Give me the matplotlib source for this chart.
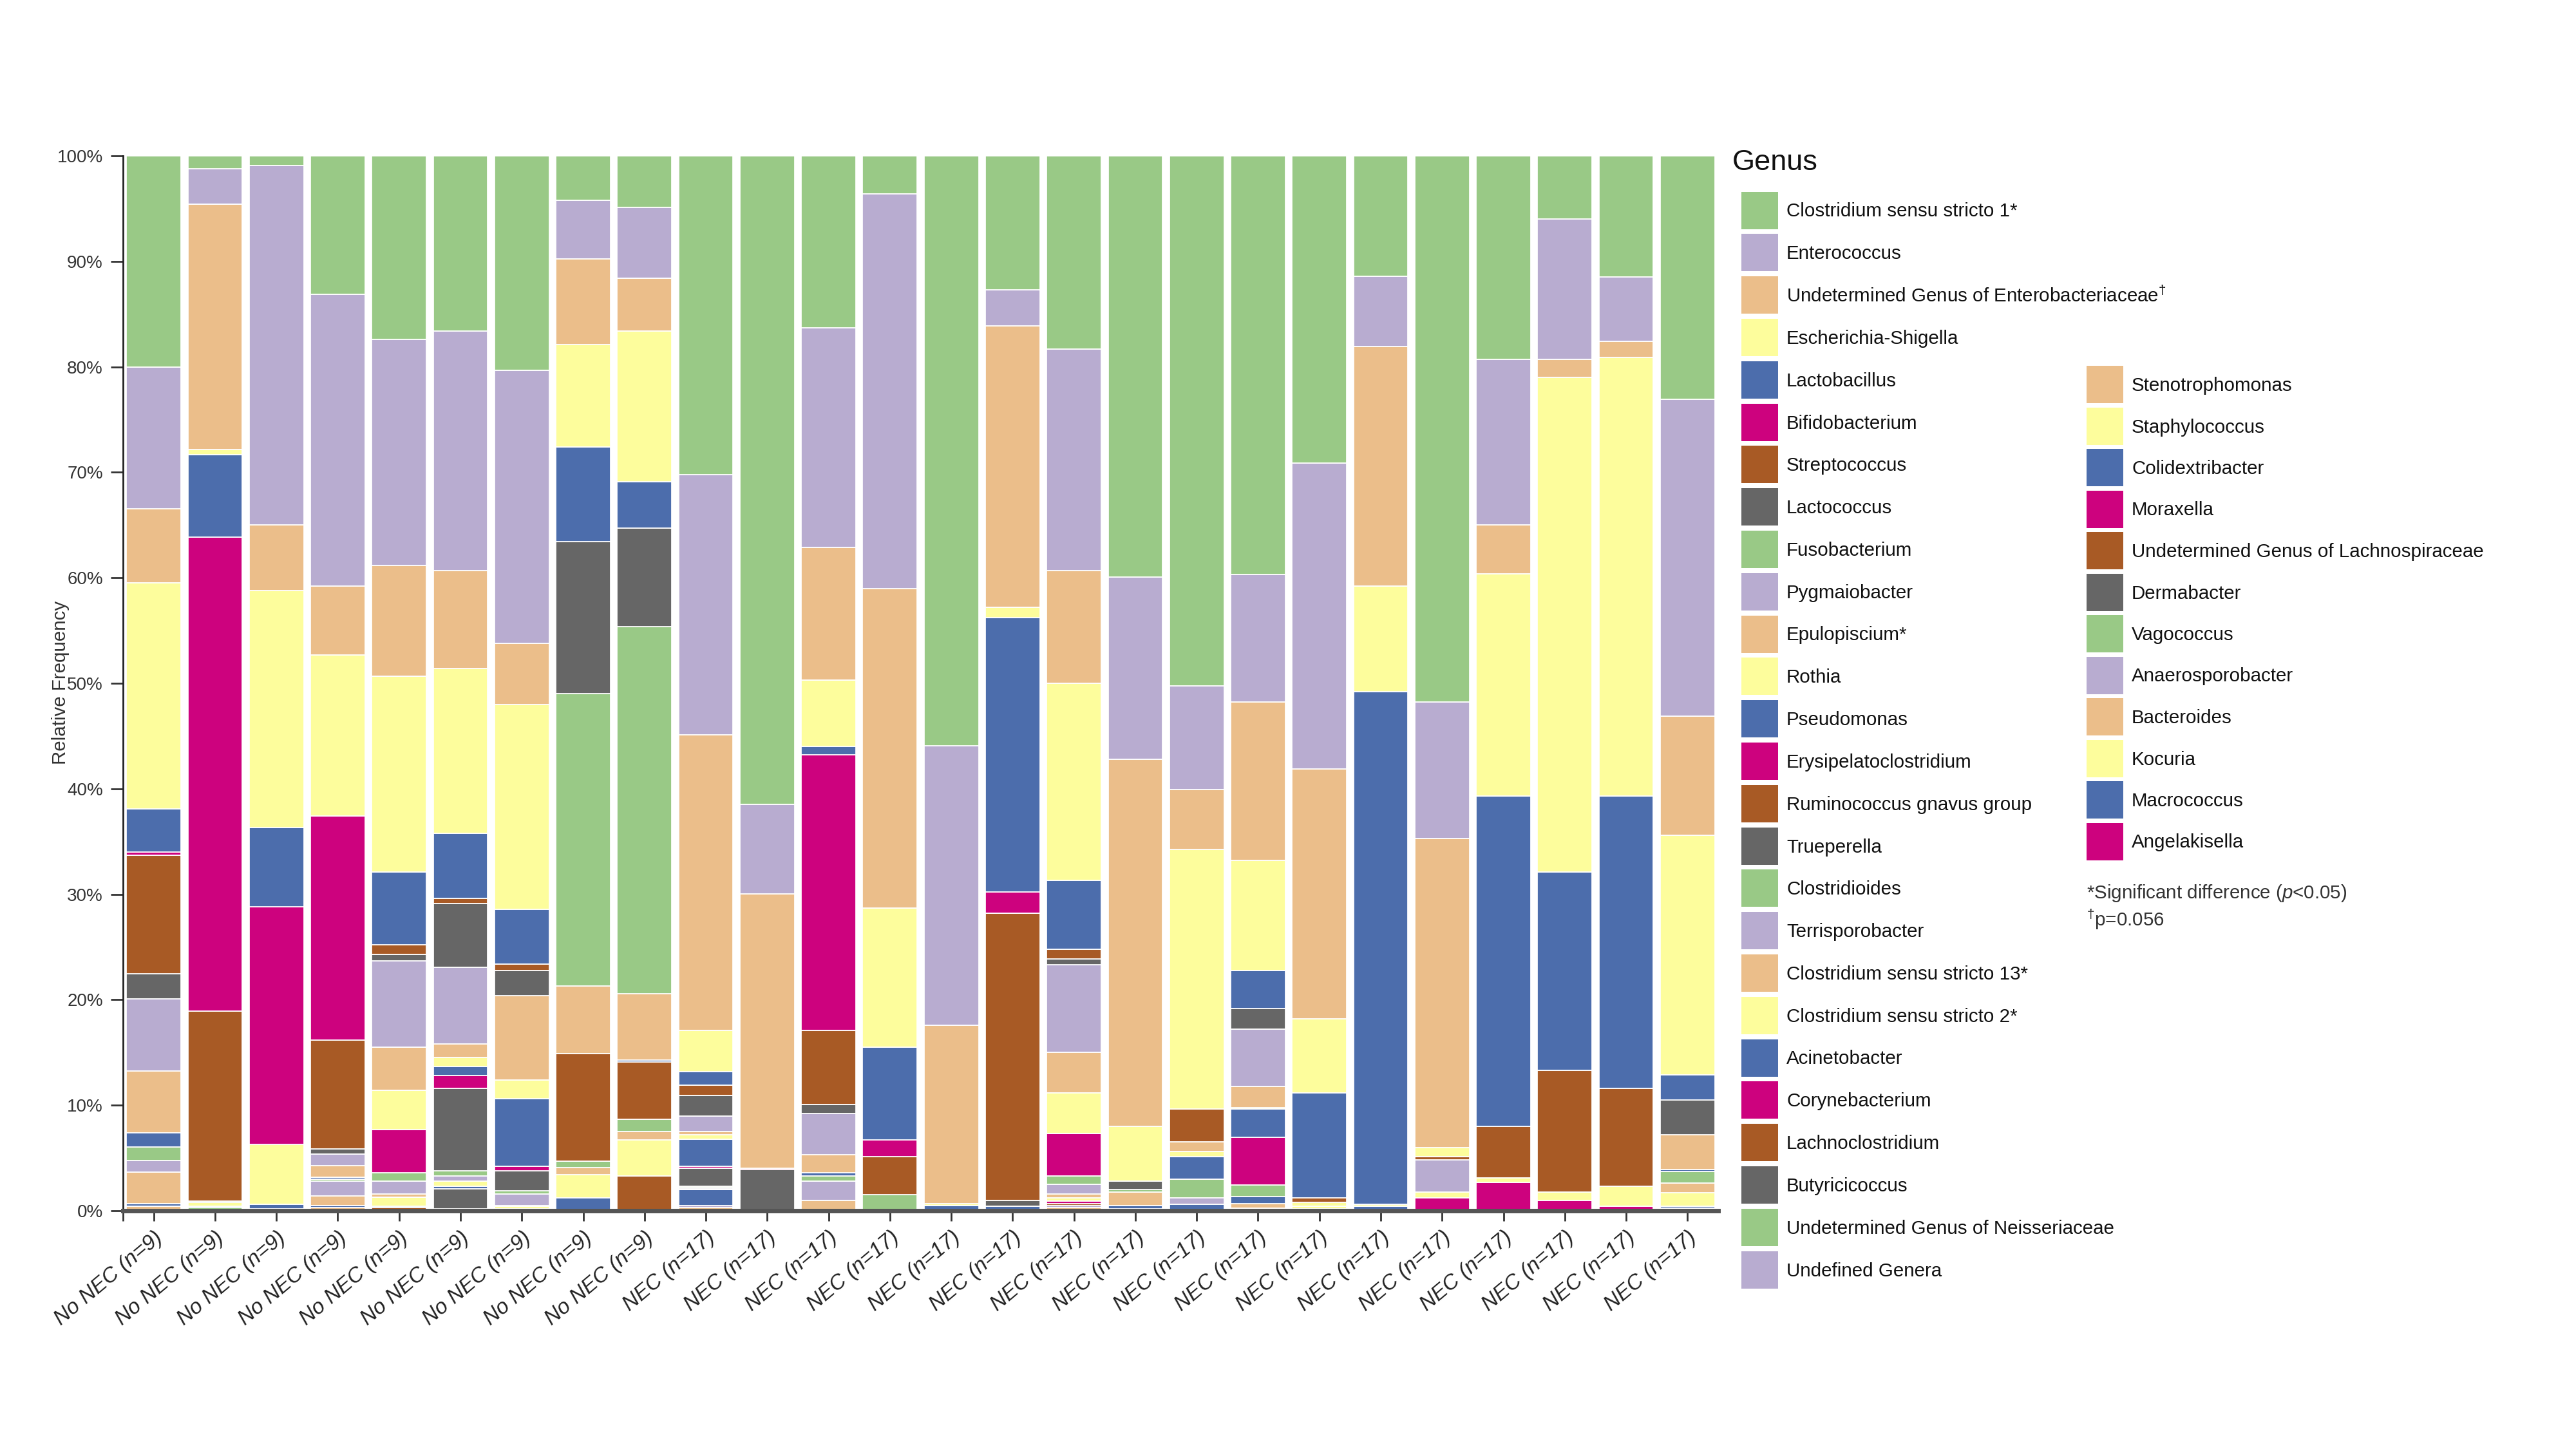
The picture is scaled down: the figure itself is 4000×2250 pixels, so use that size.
import matplotlib
matplotlib.use('Agg')
import matplotlib.pyplot as plt
from matplotlib.patches import Rectangle
import numpy as np

plt.rcParams['font.family'] = ['Liberation Sans', 'DejaVu Sans']
plt.rcParams['mathtext.fontset'] = 'custom'
plt.rcParams['mathtext.rm'] = 'Liberation Sans'
plt.rcParams['mathtext.it'] = 'Liberation Sans:italic'

# ---------------- data (relative frequency, %) ----------------
samples = ['No NEC (n=9)'] * 9 + ['NEC (n=17)'] * 17

genera = ['Clostridium sensu stricto 1*', 'Enterococcus',
          r'Undetermined Genus of Enterobacteriaceae$^{†}$', 'Escherichia-Shigella',
          'Lactobacillus', 'Bifidobacterium', 'Streptococcus', 'Lactococcus',
          'Fusobacterium', 'Pygmaiobacter', 'Epulopiscium*', 'Rothia',
          'Pseudomonas', 'Erysipelatoclostridium', 'Ruminococcus gnavus group',
          'Trueperella', 'Clostridioides', 'Terrisporobacter',
          'Clostridium sensu stricto 13*', 'Clostridium sensu stricto 2*',
          'Acinetobacter', 'Corynebacterium', 'Lachnoclostridium', 'Butyricicoccus',
          'Undetermined Genus of Neisseriaceae', 'Undefined Genera',
          'Stenotrophomonas', 'Staphylococcus', 'Colidextribacter', 'Moraxella',
          'Undetermined Genus of Lachnospiraceae', 'Dermabacter', 'Vagococcus',
          'Anaerosporobacter', 'Bacteroides', 'Kocuria', 'Macrococcus', 'Angelakisella']

clostridium_ss1 = [20.0, 1.2, 0.9, 13.1, 17.4, 16.6, 20.3, 4.2, 4.9, 30.2, 61.5, 16.3, 3.6,
                   55.9, 12.7, 18.3, 39.9, 50.2, 39.7, 29.1, 11.4, 51.8, 19.3, 6.0, 11.5, 23.1]
enterococcus = [13.4, 3.4, 34.1, 27.7, 21.4, 22.7, 25.9, 5.6, 6.7, 24.7, 8.5, 20.8, 37.4,
                26.5, 3.4, 21.0, 17.3, 9.8, 12.1, 29.0, 6.7, 12.9, 15.7, 13.3, 6.1, 30.0]
enterobacteriaceae = [7.0, 23.2, 6.2, 6.5, 10.5, 9.3, 5.8, 8.1, 5.0, 28.0, 26.0, 12.6, 30.3,
                      16.9, 26.7, 10.7, 34.8, 5.7, 15.0, 23.7, 22.7, 29.3, 4.6, 1.7, 1.5, 11.3]
escherichia = [21.4, 0.5, 22.5, 15.3, 18.6, 15.6, 19.4, 9.7, 14.3, 3.9, 0, 6.3, 13.2,
               0.2, 1.0, 18.7, 5.2, 24.55, 10.4, 7.0, 10.0, 0.9, 21.1, 46.9, 41.6, 22.7]
lactobacillus = [4.1, 7.8, 7.5, 0, 6.9, 6.2, 5.2, 9.0, 4.4, 1.3, 0, 0.8, 8.8,
                 0.5, 26.0, 6.5, 0, 0, 3.6, 10.0, 48.6, 0, 31.3, 18.8, 27.7, 2.4]
bifidobacterium = [0.3, 44.9, 22.5, 21.2, 0, 0, 0, 0, 0, 0, 0.15, 26.1, 1.6,
                   0, 2.0, 0, 0, 0, 0, 0, 0, 0, 0, 0, 0, 0]
streptococcus = [11.2, 18.0, 0, 10.35, 0.9, 0.5, 0.6, 0, 0, 1.0, 0, 7.0, 3.6,
                 0, 27.2, 0.9, 0, 3.15, 0, 0.4, 0, 0.3, 4.9, 11.5, 9.3, 0]
lactococcus = [2.4, 0.1, 0, 0.5, 0.6, 6.0, 2.4, 14.4, 9.4, 1.9, 3.9, 0.9, 0,
               0, 0.6, 0.6, 0.8, 0, 2.0, 0, 0, 0, 0, 0, 0, 3.3]
fusobacterium = [0, 0, 0, 0, 0, 0, 0, 27.8, 34.8, 0, 0, 0, 1.5,
                 0, 0, 0, 0.2, 0, 0, 0, 0, 0, 0, 0, 0, 0]
pygmaiobacter = [6.8, 0, 0, 1.1, 8.2, 7.3, 0, 0, 0, 1.5, 0, 3.9, 0,
                 0, 0, 8.3, 0, 0, 5.4, 0, 0, 3.0, 0, 0, 0, 0]
epulopiscium = [5.9, 0, 0, 1.1, 4.1, 1.3, 8.0, 6.4, 6.3, 0.3, 0, 1.7, 0,
                0, 0, 3.8, 1.3, 0.9, 2.05, 0, 0, 0, 0, 0, 0, 3.3]
rothia = [0, 0.4, 5.7, 0, 3.7, 0.8, 1.8, 0, 0, 0.4, 0, 0, 0,
          0, 0, 3.9, 0, 0.5, 0.1, 0.4, 0.2, 0.6, 0.4, 0.8, 1.85, 0]
pseudomonas = [1.3, 0.1, 0.4, 0.15, 0, 0.9, 6.4, 0, 0.2, 2.6, 0, 0.3, 0,
               0, 0.4, 0, 0.3, 2.1, 2.7, 0, 0.4, 0, 0, 0, 0, 0.2]
erysipelatoclostridium = [0, 0, 0, 0, 4.1, 1.2, 0.4, 0, 0, 0.2, 0, 0, 0,
                          0, 0, 4.0, 0, 0, 4.5, 0, 0, 1.2, 2.7, 0.9, 0.45, 0]
ruminococcus = [0, 0, 0, 0, 0, 0, 0, 10.2, 5.4, 0, 0, 0, 0,
                0, 0, 0, 0, 0, 0, 0, 0, 0, 0, 0, 0, 0]
trueperella = [0, 0, 0, 0, 0, 7.8, 1.9, 0, 0, 1.7, 0, 0, 0,
               0, 0, 0, 0, 0, 0, 0, 0, 0, 0, 0, 0, 0]
clostridioides = [1.3, 0.3, 0.2, 0.2, 0.8, 0.5, 0.3, 0.6, 1.2, 0.1, 0, 0.5, 0,
                  0, 0, 0.8, 0, 1.8, 1.1, 0, 0, 0, 0, 0, 0, 1.1]
terrisporobacter = [1.1, 0, 0, 1.4, 1.2, 0.5, 1.1, 0, 0, 0.1, 0, 1.8, 0,
                    0, 0, 0.9, 0, 0.6, 0, 0, 0, 0, 0, 0, 0, 0]
clostridium_ss13 = [3.0, 0, 0, 0.9, 0.3, 0, 0.1, 0.7, 0.8, 0, 0, 1.0, 0,
                    0, 0, 0.4, 0, 0, 0, 0, 0, 0, 0, 0, 0, 0.9]
clostridium_ss2 = [0, 0, 0, 0, 0.9, 0.5, 0.2, 2.2, 3.4, 0.1, 0, 0, 0,
                   0, 0, 0.3, 0, 0, 0, 0.2, 0, 0, 0, 0, 0, 1.25]
acinetobacter = [0.2, 0, 0, 0.2, 0.1, 0.2, 0.1, 1.2, 0, 1.5, 0, 0, 0,
                 0, 0, 0, 0.2, 0.6, 0.7, 0.2, 0, 0, 0, 0, 0, 0.2]
corynebacterium = [0, 0, 0, 0, 0, 0, 0.1, 0, 0, 0, 0, 0, 0,
                   0, 0, 0.2, 0, 0, 0, 0, 0, 0, 0, 0, 0, 0]
lachnoclostridium = [0, 0, 0, 0, 0.3, 0, 0, 0, 3.3, 0, 0, 0, 0,
                     0, 0, 0.2, 0, 0, 0, 0, 0, 0, 0, 0, 0, 0]
butyricicoccus = [0, 0, 0, 0, 0, 1.9, 0, 0, 0, 0, 0, 0, 0,
                  0, 0, 0, 0, 0, 0, 0, 0, 0, 0, 0, 0, 0]
neisseriaceae = [0] * 26
undefined_genera = [0, 0, 0, 0, 0, 0, 0, 0, 0, 0.2, 0, 0, 0,
                    0, 0, 0.2, 0, 0, 0, 0, 0, 0, 0, 0, 0, 0.25]
stenotrophomonas = [0.3, 0, 0, 0.3, 0, 0, 0, 0, 0, 0.3, 0, 0, 0,
                    0, 0, 0.3, 0, 0, 0.4, 0, 0, 0, 0, 0, 0, 0]
staphylococcus = [0] * 26
colidextribacter = [0.15, 0, 0, 0, 0, 0, 0, 0, 0, 0, 0, 0, 0,
                    0, 0, 0, 0, 0, 0, 0, 0, 0, 0, 0, 0, 0]
moraxella = [0, 0, 0, 0, 0, 0.2, 0, 0, 0, 0, 0, 0, 0,
             0, 0, 0, 0, 0, 0, 0, 0, 0, 0, 0, 0, 0]
lachnospiraceae = [0] * 26
dermabacter = [0] * 26
vagococcus = [0] * 26
anaerosporobacter = [0] * 26
bacteroides = [0, 0, 0, 0, 0, 0, 0, 0, 0, 0, 0, 0, 0,
               0, 0, 0, 0, 0, 0.25, 0, 0, 0, 0, 0, 0, 0]
kocuria = [0] * 26
macrococcus = [0] * 26
angelakisella = [0, 0, 0, 0, 0, 0, 0, 0, 0, 0, 0, 0, 0,
                 0, 0, 0, 0, 0, 0, 0, 0, 0, 0, 0.1, 0, 0]

genus_values = [clostridium_ss1, enterococcus, enterobacteriaceae, escherichia,
                lactobacillus, bifidobacterium, streptococcus, lactococcus,
                fusobacterium, pygmaiobacter, epulopiscium, rothia, pseudomonas,
                erysipelatoclostridium, ruminococcus, trueperella, clostridioides,
                terrisporobacter, clostridium_ss13, clostridium_ss2, acinetobacter,
                corynebacterium, lachnoclostridium, butyricicoccus, neisseriaceae,
                undefined_genera, stenotrophomonas, staphylococcus, colidextribacter,
                moraxella, lachnospiraceae, dermabacter, vagococcus, anaerosporobacter,
                bacteroides, kocuria, macrococcus, angelakisella]

palette = ['#99c986', '#b8acd0', '#ebbe8a', '#fdfd9c',
           '#4c6dac', '#cd027e', '#a85a25', '#666666']

# ---------------- plot ----------------
W, H = 4000, 2250
fig = plt.figure(figsize=(16, 9), dpi=250)
ax = fig.add_axes([191 / W, 1 - 1880 / H, (2668 - 191) / W, (1880 - 242) / H])

data = np.array(genus_values, dtype=float)
data = data / data.sum(axis=0) * 100
x = np.arange(len(samples))
bottom = np.zeros(len(samples))
for k in range(len(genera) - 1, -1, -1):
    h = data[k]
    ax.bar(x, h, width=0.89, bottom=bottom, color=palette[k % 8],
           edgecolor='white', linewidth=np.where(h > 0, 0.5, 0))
    bottom += h

ax.set_xlim(-0.5, len(samples) - 0.5)
ax.set_ylim(0, 100)
ax.set_yticks(np.arange(0, 101, 10))
ax.set_yticklabels([f'{v}%' for v in range(0, 101, 10)], fontsize=8, color='#333333')
ax.set_xticks(np.concatenate([[-0.5], x]))
ax.set_xticklabels([''] + samples, rotation=40, ha='right', va='top',
                   rotation_mode='anchor', fontsize=9.5, style='italic', color='#222222')
ax.tick_params(axis='y', length=5.5, width=0.8, pad=3.5, color='#333333')
ax.tick_params(axis='x', length=4.5, width=0.8, pad=3, color='#333333')
for s in ['top', 'right']:
    ax.spines[s].set_visible(False)
ax.spines['left'].set_linewidth(0.8)
ax.spines['left'].set_color('#222222')
ax.spines['bottom'].set_linewidth(2.0)
ax.spines['bottom'].set_color('#555555')

fig.text(94 / W, 1 - 1060 / H, 'Relative Frequency', rotation=90, ha='center',
         va='center', fontsize=8.5, color='#333333')

# ---------------- legend ----------------
lg = fig.add_axes([0, 0, 1, 1])
lg.set_xlim(0, W)
lg.set_ylim(H, 0)
lg.axis('off')

lg.text(2690, 253, 'Genus', fontsize=13, ha='left', va='center', color='#111111')
n_col1 = 26
for i, name in enumerate(genera):
    if i < n_col1:
        sx, cy = 2704, 326.5 + i * 65.8
    else:
        sx, cy = 3240, 597 + (i - n_col1) * 64.5
    lg.add_patch(Rectangle((sx, cy - 29), 57, 58, facecolor=palette[i % 8],
                           edgecolor='none'))
    lg.text(sx + 70, cy + 2, name, fontsize=8.5, ha='left', va='center',
            color='#111111')

lg.text(3240, 1387, r'*Significant difference ($\mathit{p}$<0.05)', fontsize=8.5,
        ha='left', va='center', color='#333333')
lg.text(3240, 1428, r'$^{†}$p=0.056', fontsize=8.5, ha='left', va='center',
        color='#333333')

fig.savefig('out.png', dpi=250, facecolor='white')
